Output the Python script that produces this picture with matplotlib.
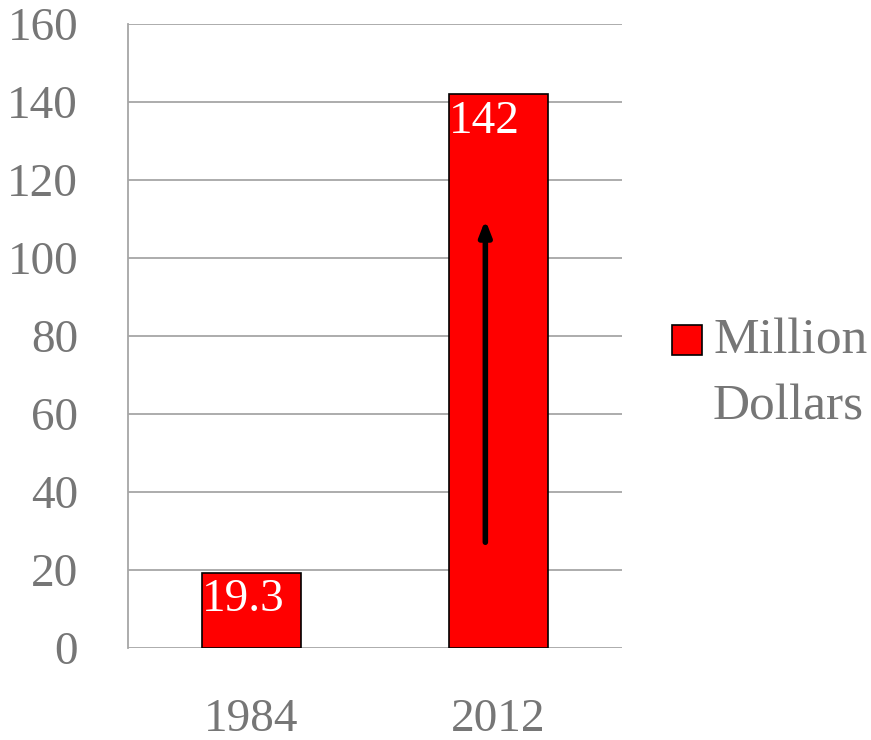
import numpy as np
import matplotlib
matplotlib.use("Agg")
import matplotlib.pyplot as plt
from matplotlib.patches import Rectangle

years = ["1984", "2012"]
values = [19.3, 142]
series_name = "Million\nDollars"
yticks = [0, 20, 40, 60, 80, 100, 120, 140, 160]

plt.rcParams['font.family'] = ['Liberation Serif', 'DejaVu Serif']
grey = '#767676'
red = '#ff0000'

fig = plt.figure(figsize=(8.71, 7.40), dpi=100)
ax = fig.add_axes([0.147, 0.1243, 0.567, 0.8433])

x = np.arange(len(years))
bars = ax.bar(x, values, width=0.4, color=red, edgecolor='black',
              linewidth=1.2, zorder=3)

ax.set_xlim(-0.5, 1.5)
ax.set_ylim(0, 160)
ax.set_yticks(yticks)
ax.set_xticks(x)
ax.set_xticklabels(years)
ax.tick_params(axis='both', length=0, labelsize=34, labelcolor=grey)
ax.tick_params(axis='y', pad=36)
ax.tick_params(axis='x', pad=36)
ax.yaxis.grid(True, color='#a6a6a6', linewidth=1.3, zorder=0)
ax.set_axisbelow(True)
for s in ['top', 'right', 'bottom']:
    ax.spines[s].set_visible(False)
ax.spines['left'].set_color('#a6a6a6')
ax.spines['left'].set_linewidth(1.3)

# value labels in the top-left corner of each bar
for b, v in zip(bars, values):
    ax.text(b.get_x(), v - 1.5, f"{v:g}", color='white', fontsize=34,
            ha='left', va='top', zorder=4)

# arrow inside the 2012 bar
ax.annotate("", xy=(0.947, 110.5), xytext=(0.947, 26.4),
            arrowprops=dict(arrowstyle='-|>,head_width=0.35,head_length=0.9',
                            color='black', lw=4), zorder=5)

# legend drawn by hand so the key sits on the first line of the label
fig.add_artist(Rectangle((672 / 871, 1 - 355 / 740), 30 / 871, 30 / 740,
                         transform=fig.transFigure, facecolor=red,
                         edgecolor='black', linewidth=1.2))
fig.text(713 / 871, 1 - 318 / 740, series_name, color=grey, fontsize=37,
         ha='left', va='top', linespacing=1.55)

fig.savefig("out.png", dpi=100)
